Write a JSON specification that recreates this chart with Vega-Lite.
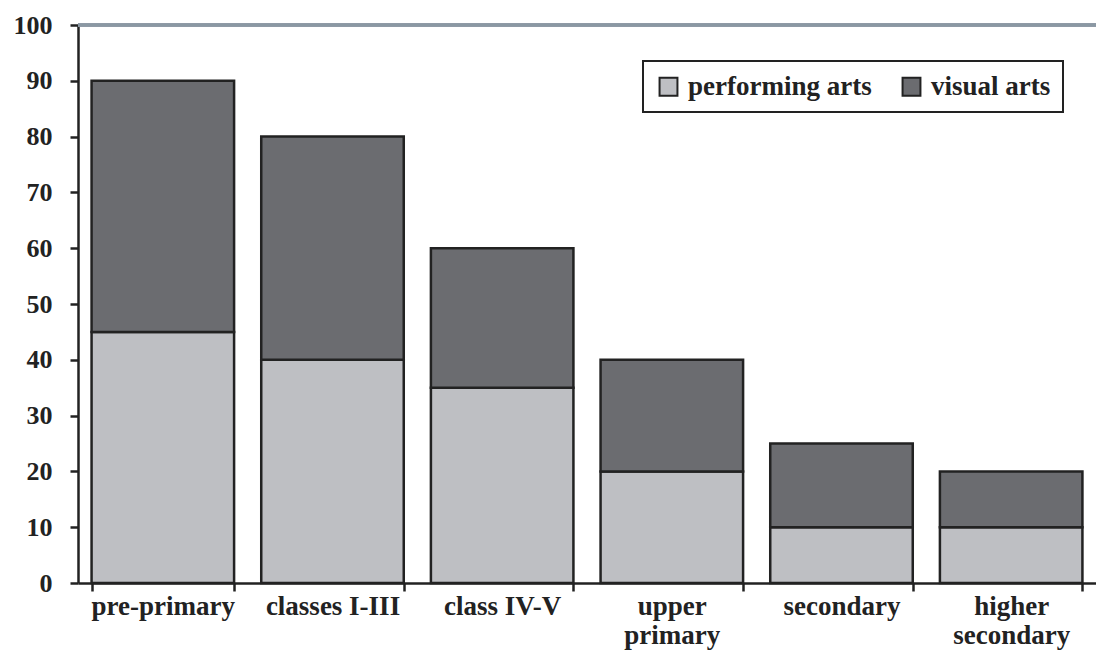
{
  "$schema": "https://vega.github.io/schema/vega-lite/v6.json",
  "autosize": "none",
  "width": 1018,
  "height": 558,
  "padding": {"left": 78, "top": 25, "right": 0, "bottom": 69},
  "background": "white",
  "config": {
    "view": {"stroke": null},
    "font": "Liberation Serif",
    "axis": {"labelFont": "Liberation Serif", "labelFontWeight": "bold", "labelFontSize": 27, "labelColor": "#222", "domainColor": "#222", "tickColor": "#222", "domainWidth": 2.5, "tickWidth": 2.5, "tickSize": 8, "grid": false, "title": null},
    "legend": {"labelFont": "Liberation Serif", "labelFontWeight": "bold", "labelFontSize": 27, "labelColor": "#222", "labelLimit": 400}
  },
  "data": {
    "values": [
      {"level": "pre-primary", "type": "performing arts", "value": 45},
      {"level": "pre-primary", "type": "visual arts", "value": 45},
      {"level": "classes I-III", "type": "performing arts", "value": 40},
      {"level": "classes I-III", "type": "visual arts", "value": 40},
      {"level": "class IV-V", "type": "performing arts", "value": 35},
      {"level": "class IV-V", "type": "visual arts", "value": 25},
      {"level": "upper primary", "type": "performing arts", "value": 20},
      {"level": "upper primary", "type": "visual arts", "value": 20},
      {"level": "secondary", "type": "performing arts", "value": 10},
      {"level": "secondary", "type": "visual arts", "value": 15},
      {"level": "higher secondary", "type": "performing arts", "value": 10},
      {"level": "higher secondary", "type": "visual arts", "value": 10}
    ]
  },
  "layer": [
    {
      "mark": {"type": "rule", "color": "#8a98a3", "strokeWidth": 2.5},
      "encoding": {"y": {"datum": 100, "type": "quantitative", "scale": {"domain": [0, 100]}}}
    },
    {
      "mark": {"type": "bar", "stroke": "#222", "strokeWidth": 2.5},
      "encoding": {
        "x": {
          "field": "level", "type": "nominal", "sort": null,
          "scale": {"paddingInner": 0.16, "paddingOuter": 0.08},
          "axis": {"labelAngle": 0, "tickBand": "extent", "labelPadding": 2, "labelBaseline": "top", "labelLineHeight": 29,
            "labelExpr": "datum.label == 'upper primary' ? ['upper', 'primary'] : datum.label == 'higher secondary' ? ['higher', 'secondary'] : datum.label"}
        },
        "y": {
          "field": "value", "type": "quantitative", "stack": "zero",
          "scale": {"domain": [0, 100], "nice": false},
          "axis": {"values": [0,10,20,30,40,50,60,70,80,90,100], "labelPadding": 18, "labelFontSize": 26}
        },
        "color": {
          "field": "type", "type": "nominal",
          "scale": {"domain": ["performing arts", "visual arts"], "range": ["#bebfc3", "#6b6c70"]},
          "legend": {"title": null, "orient": "none", "legendX": 565, "legendY": 36, "direction": "horizontal", "symbolType": "square", "symbolSize": 320, "symbolStrokeColor": "#222", "symbolStrokeWidth": 2, "symbolOpacity": 1, "strokeColor": "#222", "padding": 12, "columnPadding": 26, "labelOffset": 6, "labelLimit": 400,
            "encode": {"legend": {"update": {"strokeWidth": {"value": 2}}}}}
        },
        "order": {"field": "type", "sort": "ascending"}
      }
    }
  ]
}
